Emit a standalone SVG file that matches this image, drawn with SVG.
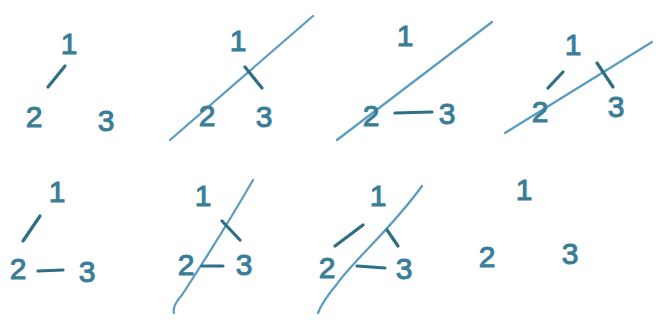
<svg xmlns="http://www.w3.org/2000/svg" width="660" height="326" viewBox="0 0 660 326">
<style>
.d{font-family:"Liberation Sans","DejaVu Sans",sans-serif;font-size:30px;fill:#3a7d98;stroke:#3a7d98;stroke-width:1;text-anchor:middle}
.e{stroke:#2f6f86;stroke-width:3.2;stroke-linecap:round;fill:none}
.c{stroke:#5a9cc0;stroke-width:2.2;stroke-linecap:round;fill:none}
</style>
<rect width="660" height="326" fill="#ffffff"/>
<g id="connectors">
<path class="e" d="M48,87 L65,66"/>
<path class="c" d="M170,140 L313,16"/>
<path class="e" d="M245,67 L262,88"/>
<path class="c" d="M337,140 L492,22"/>
<path class="e" d="M395,113 L432,112"/>
<path class="c" d="M505,133 L652,42"/>
<path class="e" d="M548,88 L563,72"/>
<path class="e" d="M597,63 L613,87"/>
<path class="e" d="M23,241 L40,216"/>
<path class="e" d="M38,271 L63,270"/>
<path class="c" d="M253,180 C230,220 195,275 182,295 Q172,306 174,313"/>
<path class="e" d="M222,221 L240,240"/>
<path class="e" d="M202,266 L223,266"/>
<path class="c" d="M422,186 C392,228 352,262 337,284 Q322,302 318,313"/>
<path class="e" d="M335,246 L363,225"/>
<path class="e" d="M387,230 L398,246"/>
<path class="e" d="M357,266 L385,268"/>
</g>
<g id="panel1">
<g id="p1n1"><text class="d" x="69" y="54">1</text></g>
<g id="p1n2"><text class="d" x="34" y="127">2</text></g>
<g id="p1n3"><text class="d" x="106" y="131">3</text></g>
</g>
<g id="panel2">
<g id="p2n1"><text class="d" x="238" y="51">1</text></g>
<g id="p2n2"><text class="d" x="207" y="126">2</text></g>
<g id="p2n3"><text class="d" x="264" y="127">3</text></g>
</g>
<g id="panel3">
<g id="p3n1"><text class="d" x="405" y="46">1</text></g>
<g id="p3n2"><text class="d" x="371" y="126">2</text></g>
<g id="p3n3"><text class="d" x="447" y="124">3</text></g>
</g>
<g id="panel4">
<g id="p4n1"><text class="d" x="573" y="55">1</text></g>
<g id="p4n2"><text class="d" x="540" y="122">2</text></g>
<g id="p4n3"><text class="d" x="616" y="117">3</text></g>
</g>
<g id="panel5">
<g id="p5n1"><text class="d" x="57" y="202">1</text></g>
<g id="p5n2"><text class="d" x="18" y="279">2</text></g>
<g id="p5n3"><text class="d" x="87" y="282">3</text></g>
</g>
<g id="panel6">
<g id="p6n1"><text class="d" x="203" y="206">1</text></g>
<g id="p6n2"><text class="d" x="186" y="275">2</text></g>
<g id="p6n3"><text class="d" x="244" y="275">3</text></g>
</g>
<g id="panel7">
<g id="p7n1"><text class="d" x="378" y="206">1</text></g>
<g id="p7n2"><text class="d" x="327" y="278">2</text></g>
<g id="p7n3"><text class="d" x="404" y="279">3</text></g>
</g>
<g id="panel8">
<g id="p8n1"><text class="d" x="524" y="200">1</text></g>
<g id="p8n2"><text class="d" x="487" y="267">2</text></g>
<g id="p8n3"><text class="d" x="570" y="264">3</text></g>
</g>
</svg>
